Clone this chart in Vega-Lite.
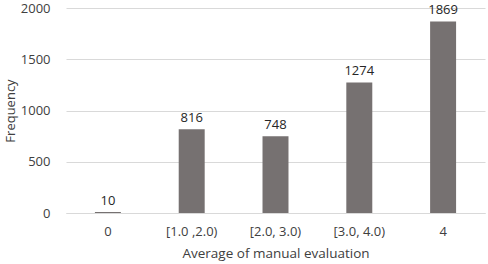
{
  "$schema": "https://vega.github.io/schema/vega-lite/v6.json",
  "width": 419,
  "height": 205,
  "autosize": {"type": "none"},
  "padding": {"left": 66, "top": 8, "right": 3, "bottom": 51},
  "config": {
    "view": {"stroke": null},
    "font": "Open Sans"
  },
  "data": {
    "values": [
      {"category": "0", "frequency": 10},
      {"category": "[1.0 ,2.0)", "frequency": 816},
      {"category": "[2.0, 3.0)", "frequency": 748},
      {"category": "[3.0, 4.0)", "frequency": 1274},
      {"category": "4", "frequency": 1869}
    ]
  },
  "encoding": {
    "x": {
      "field": "category",
      "type": "nominal",
      "sort": null,
      "scale": {"paddingInner": 0.69, "paddingOuter": 0.345},
      "axis": {
        "title": "Average of manual evaluation",
        "labelAngle": 0,
        "labelFontSize": 13,
        "labelColor": "#404040",
        "titleFontSize": 13.5,
        "titleFontWeight": "normal",
        "titleColor": "#404040",
        "labelPadding": 12,
        "titlePadding": 8,
        "ticks": false,
        "domainColor": "#d9d9d9"
      }
    },
    "y": {
      "field": "frequency",
      "type": "quantitative",
      "scale": {"domain": [0, 2000]},
      "axis": {
        "title": "Frequency",
        "format": "d",
        "values": [0, 500, 1000, 1500, 2000],
        "labelFontSize": 13,
        "labelColor": "#404040",
        "titleFontSize": 13,
        "titleFontWeight": "normal",
        "titleColor": "#404040",
        "labelPadding": 16,
        "titlePadding": 3,
        "ticks": false,
        "domain": false,
        "gridColor": "#d9d9d9"
      }
    }
  },
  "layer": [
    {"mark": {"type": "bar", "color": "#767171"}},
    {
      "mark": {"type": "text", "baseline": "alphabetic", "dy": -7, "fontSize": 13, "color": "#262626"},
      "encoding": {"text": {"field": "frequency", "type": "quantitative", "format": "d"}}
    }
  ]
}
